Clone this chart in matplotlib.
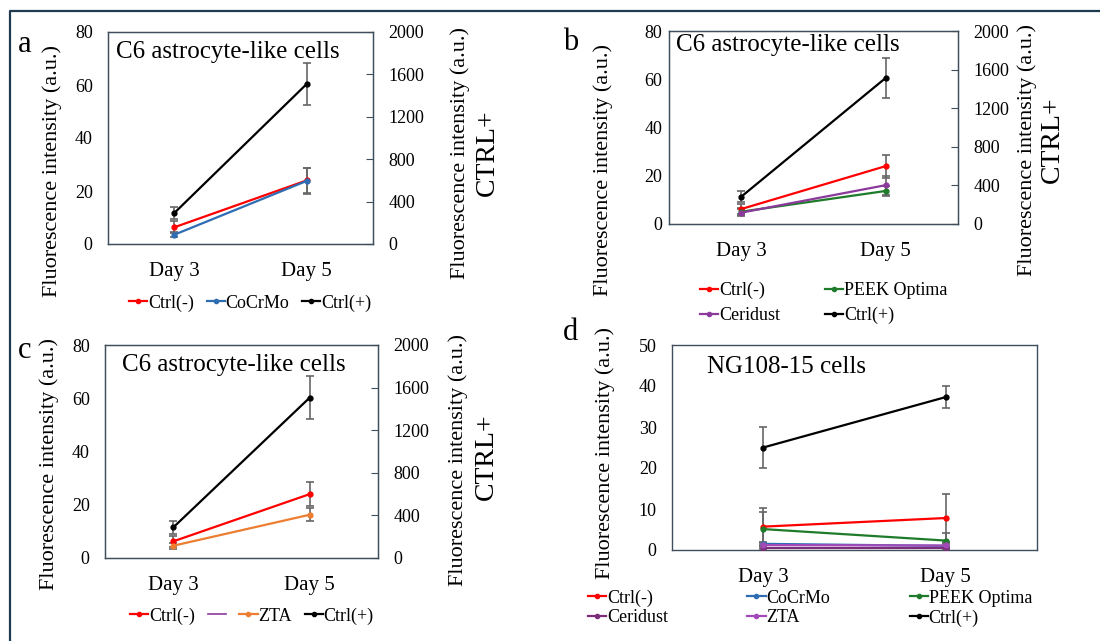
import matplotlib
matplotlib.use("Agg")
import matplotlib.pyplot as plt
from matplotlib.lines import Line2D

plt.rcParams['font.family'] = ['Liberation Serif', 'DejaVu Serif']

# ---- data ----
days = ["Day 3", "Day 5"]

# panel a
a_ctrl_neg = [6.3, 24.0]
a_ctrl_neg_err = [2.2, 4.6]
a_cocrmo = [3.5, 23.8]
a_cocrmo_err = [1.0, 4.8]
a_ctrl_pos = [292, 1510]
a_ctrl_pos_err = [58, 198]

# panel b
b_ctrl_neg = [6.2, 24.0]
b_ctrl_neg_err = [2.0, 4.8]
b_peek = [5.1, 13.7]
b_peek_err = [1.5, 2.0]
b_ceridust = [4.7, 16.1]
b_ceridust_err = [1.5, 4.0]
b_ctrl_pos = [283, 1514]
b_ctrl_pos_err = [60, 207]

# panel c
c_ctrl_neg = [6.25, 24.0]
c_ctrl_neg_err = [2.0, 4.5]
c_zta = [4.6, 16.25]
c_zta_err = [1.2, 2.5]
c_ctrl_pos = [287, 1506]
c_ctrl_pos_err = [58, 200]

# panel d
d_ctrl_neg = [5.7, 7.8]
d_ctrl_neg_err = [4.5, 5.9]
d_cocrmo = [1.5, 1.0]
d_cocrmo_err = [0.5, 0.5]
d_peek = [5.1, 2.3]
d_peek_err = [4.2, 1.9]
d_ceridust = [0.6, 0.6]
d_ceridust_err = [0.3, 0.3]
d_zta = [1.2, 1.1]
d_zta_err = [0.4, 0.5]
d_ctrl_pos = [25.0, 37.3]
d_ctrl_pos_err = [5.0, 2.6]

RED = '#FF0000'
BLUE = '#2E6DB4'
GREEN = '#1E7B2A'
PURPLE = '#8B3A9C'
DPURPLE = '#7A2E7A'
ZPURPLE = '#A44AB8'
ORANGE = '#ED7D31'
SPINE = '#3E4E5C'
ERR = '#666666'

W, H = 1100, 641
fig = plt.figure(figsize=(11, 6.41), dpi=100)


def px(x, y):
    return x / W, 1 - y / H


def box(x0, y0, x1, y1):
    return [x0 / W, 1 - y1 / H, (x1 - x0) / W, (y1 - y0) / H]


def series(ax, vals, err, color, label):
    x = list(range(len(days)))
    ax.errorbar(x, vals, yerr=err, color=color, ecolor=ERR, elinewidth=1.2,
                capsize=3, capthick=1.2, lw=1.6, marker='o', ms=3.5,
                label=label, zorder=3)
    return Line2D([], [], color=color, lw=1.6, marker='o', ms=3)


def style_axes(ax, ymax, step, ypad, xpad):
    ax.set_xlim(-0.5, 1.5)
    ax.set_ylim(0, ymax)
    ax.set_yticks(range(0, ymax + 1, step))
    ax.set_xticks(range(len(days)))
    ax.set_xticklabels(days, fontsize=15)
    ax.tick_params(axis='y', length=0, pad=ypad, labelsize=13)
    ax.tick_params(axis='x', length=0, pad=xpad)
    for s in ax.spines.values():
        s.set_color(SPINE)
        s.set_linewidth(1.0)


def twin(ax, pad):
    ax2 = ax.twinx()
    ax2.set_ylim(0, 2000)
    ax2.set_yticks(range(0, 2001, 400))
    ax2.tick_params(axis='y', direction='in', length=5, color=SPINE,
                    pad=pad, labelsize=13)
    for s in ax2.spines.values():
        s.set_color(SPINE)
    return ax2


# ---- panel a ----
ax = fig.add_axes(box(108, 32, 373, 244))
style_axes(ax, 80, 20, 11, 13)
ax2 = twin(ax, 11)
h1 = series(ax, a_ctrl_neg, a_ctrl_neg_err, RED, 'Ctrl(-)')
h2 = series(ax, a_cocrmo, a_cocrmo_err, BLUE, 'CoCrMo')
h3 = series(ax2, a_ctrl_pos, a_ctrl_pos_err, 'black', 'Ctrl(+)')
fig.legend([h1, h2, h3], ['Ctrl(-)', 'CoCrMo', 'Ctrl(+)'], loc='center',
           bbox_to_anchor=px(250, 303), ncol=3, frameon=False, fontsize=13,
           handlelength=1.0, handletextpad=0.05, columnspacing=0.7)

# ---- panel b ----
ax = fig.add_axes(box(669, 31, 958, 224))
style_axes(ax, 80, 20, 5, 13)
ax2 = twin(ax, 11)
h1 = series(ax, b_ctrl_neg, b_ctrl_neg_err, RED, 'Ctrl(-)')
h2 = series(ax, b_peek, b_peek_err, GREEN, 'PEEK Optima')
h3 = series(ax, b_ceridust, b_ceridust_err, PURPLE, 'Ceridust')
h4 = series(ax2, b_ctrl_pos, b_ctrl_pos_err, 'black', 'Ctrl(+)')
fig.legend([h1, h3, h2, h4], ['Ctrl(-)', 'Ceridust', 'PEEK Optima', 'Ctrl(+)'],
           loc='center', bbox_to_anchor=px(824, 303), ncol=2, frameon=False,
           fontsize=13, handlelength=1.0, handletextpad=0.05,
           columnspacing=2.5, labelspacing=0.45)

# ---- panel c ----
ax = fig.add_axes(box(105, 345, 378, 558))
style_axes(ax, 80, 20, 11, 13)
ax2 = twin(ax, 11)
h1 = series(ax, c_ctrl_neg, c_ctrl_neg_err, RED, 'Ctrl(-)')
h2 = series(ax, c_zta, c_zta_err, ORANGE, 'ZTA')
h3 = series(ax2, c_ctrl_pos, c_ctrl_pos_err, 'black', 'Ctrl(+)')
blank = Line2D([], [], color=PURPLE, lw=1.2)
fig.legend([h1, blank, h2, h3], ['Ctrl(-)', '', 'ZTA', 'Ctrl(+)'], loc='center',
           bbox_to_anchor=px(252, 616), ncol=4, frameon=False, fontsize=13,
           handlelength=1.0, handletextpad=0.05, columnspacing=0.7)

# ---- panel d ----
ax = fig.add_axes(box(672, 345, 1037, 550))
style_axes(ax, 50, 10, 11, 13)
h1 = series(ax, d_ctrl_neg, d_ctrl_neg_err, RED, 'Ctrl(-)')
h2 = series(ax, d_cocrmo, d_cocrmo_err, BLUE, 'CoCrMo')
h3 = series(ax, d_peek, d_peek_err, GREEN, 'PEEK Optima')
h4 = series(ax, d_ceridust, d_ceridust_err, DPURPLE, 'Ceridust')
h5 = series(ax, d_zta, d_zta_err, ZPURPLE, 'ZTA')
h6 = series(ax, d_ctrl_pos, d_ctrl_pos_err, 'black', 'Ctrl(+)')
fig.legend([h1, h4, h2, h5, h3, h6],
           ['Ctrl(-)', 'Ceridust', 'CoCrMo', 'ZTA', 'PEEK Optima', 'Ctrl(+)'],
           loc='center', bbox_to_anchor=px(810, 608), ncol=3, frameon=False,
           fontsize=13, handlelength=1.0, handletextpad=0.05,
           columnspacing=4.4, labelspacing=0.15)

# ---- text ----
ylab = 'Fluorescence intensity (a.u.)'
for x, y in [(52, 171), (603, 170), (49, 464), (605, 453)]:
    fig.text(*px(x, y), ylab, rotation=90, ha='center', va='center', fontsize=16)
for x, y in [(460, 153), (1027, 150), (458, 460)]:
    fig.text(*px(x, y), ylab, rotation=90, ha='center', va='center', fontsize=16)
for x, y in [(487, 153), (1052, 140), (486, 457)]:
    fig.text(*px(x, y), 'CTRL+', rotation=90, ha='center', va='center', fontsize=20)

for x, y, t in [(116, 52, 'C6 astrocyte-like cells'),
                (676, 45, 'C6 astrocyte-like cells'),
                (122, 365, 'C6 astrocyte-like cells'),
                (707, 367, 'NG108-15 cells')]:
    fig.text(*px(x, y), t, ha='left', va='center', fontsize=18)

for x, y, t in [(25, 44, 'a'), (571, 42, 'b'), (25, 350, 'c'), (571, 333, 'd')]:
    fig.text(*px(x, y), t, ha='center', va='center', fontsize=22)

# outer frame (left and top edges)
fig.add_artist(Line2D([10 / W, 10 / W, 1.0], [0.0, 1 - 11 / H, 1 - 11 / H],
                      transform=fig.transFigure, color='#1F3B50', lw=1.6))

fig.savefig('out.png', dpi=100)
